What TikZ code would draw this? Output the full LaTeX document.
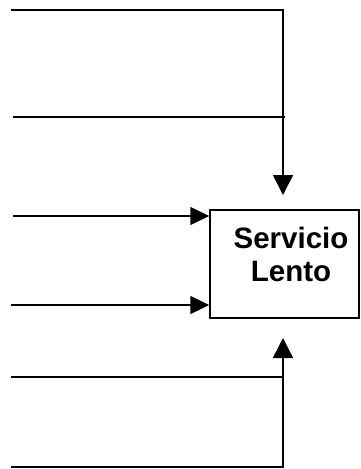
\documentclass[tikz,border=0pt]{standalone}
\usepackage{fontspec}
\setmainfont{Liberation Sans}
\usetikzlibrary{arrows.meta}
\begin{document}
\begin{tikzpicture}[x=1pt,y=-1pt,
  wire/.style={line width=1.5pt},
  arrv/.style={wire,-{Triangle[length=20pt,width=20pt]}},
  arrh/.style={wire,-{Triangle[length=19pt,width=18pt]}},
  boxstyle/.style={draw,line width=1.5pt,minimum width=149pt,minimum height=108pt,inner sep=0pt},
  labelstyle/.style={font=\fontsize{29.5}{33.5}\selectfont\bfseries,align=center,inner sep=0pt}]
\useasboundingbox (0,0) rectangle (360,469);
\node[boxstyle] (box) at (284.5,264) {};
\node[labelstyle] (lbl) at (291,254.7) {Servicio\\Lento};
% top inputs
\coordinate (a1) at (11,10);
\coordinate (a2) at (13,117);
\coordinate (ctop) at (283,10);
\coordinate (tipT) at (283,195);
\coordinate (a2e) at (285,117);
\draw[arrv] (a1) -- (ctop) -- (tipT);
\draw[wire] (a2) -- (a2e);
% left inputs
\coordinate (b1) at (13,216);
\coordinate (b2) at (11,305);
\draw[arrh] (b1) -- (b1 -| box.west);
\draw[arrh] (b2) -- (b2 -| box.west);
% bottom inputs
\coordinate (c1) at (11,377);
\coordinate (c2) at (11,467);
\coordinate (cbot) at (283,467);
\coordinate (tipB) at (283,338);
\draw[wire] (c1) -- (c1 -| cbot);
\draw[arrv] (c2) -- (cbot) -- (tipB);
\end{tikzpicture}
\end{document}
